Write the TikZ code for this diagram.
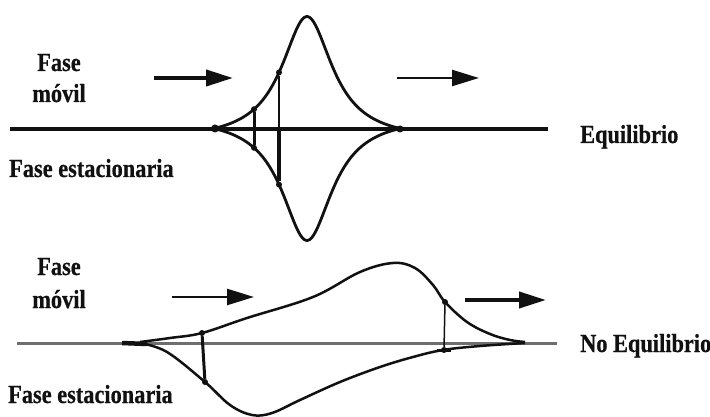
\documentclass[tikz,border=0pt]{standalone}
\usepackage{fontspec}
\usepackage{tikz}
\usetikzlibrary{positioning, arrows.meta}
\newfontfamily\lblfont[FakeStretch=0.86, FakeBold=0.6]{Liberation Serif}
\definecolor{chromInk}{HTML}{111111}
\definecolor{chromBase}{HTML}{6E6E6E}
\colorlet{curveInk}{chromInk}

\begin{document}
\begin{tikzpicture}[x=1pt, y=-1pt,
    font=\lblfont\bfseries\fontsize{26}{28}\selectfont,
    lbl/.style={anchor=base west, inner sep=0pt, text=chromInk},
    phase/.style={anchor=base, inner sep=0pt, text=chromInk},
    band/.style={curveInk, line width=2.8pt, line join=round},
    flow/.style={chromInk, -{Triangle[length=27pt, width=16pt]}},
    dot/.style={circle, fill=chromInk, inner sep=0pt, minimum size=6pt},
    declare function={peak(\x)=112*(1/(1+(\x/31)^2)-0.1)/0.9;}]
  \useasboundingbox (0,0) rectangle (710,417);

  % equilibrio
  \node[phase] (mov1) at (59,71) {Fase};
  \node[phase] (mov1b) at (59,102) {móvil};
  \node[lbl] (est1) at (9,177) {Fase estacionaria};
  \node[lbl] (eq1) at (580,143) {Equilibrio};

  \coordinate (a1s) at (154,78);  \coordinate (a1e) at (233,78);
  \coordinate (a2s) at (397,78);  \coordinate (a2e) at (479,78);
  \draw[flow, line width=4pt] (a1s) -- (a1e);
  \draw[flow, line width=2.4pt] (a2s) -- (a2e);

  \coordinate (b1s) at (10,129);  \coordinate (b1e) at (548,129);
  \draw[chromInk, line width=4.6pt] (b1s) -- (b1e);

  \draw[band] plot[domain=-93:93, samples=121] ({307+\x}, {128.5-peak(\x)});
  \draw[band] plot[domain=-93:93, samples=121] ({307+\x}, {128.5+peak(\x)});

  \node[dot] (u1) at (254,{128.5-peak(-53)}) {};
  \node[dot] (d1) at (254,{128.5+peak(-53)}) {};
  \node[dot] (u2) at (279,{128.5-peak(-28)}) {};
  \node[dot] (d2) at (279,{128.5+peak(-28)}) {};
  \node[dot, minimum size=8pt] (t1l) at (215,128.5) {};
  \node[dot, minimum size=7pt] (t1r) at (400,129) {};
  \coordinate (m2) at (279,128.5);
  \draw[chromInk, line width=3pt] (u1) -- (d1);
  \draw[chromInk, line width=1.3pt] (u2) -- (m2);
  \draw[chromInk, line width=3.4pt] (m2) -- (d2);

  % no equilibrio
  \node[phase] (mov2) at (59,275) {Fase};
  \node[phase] (mov2b) at (59,308) {móvil};
  \node[lbl] (est2) at (8,403) {Fase estacionaria};
  \node[lbl] (eq2) at (580,352) {No Equilibrio};

  \coordinate (c1s) at (172,297);  \coordinate (c1e) at (254,297);
  \coordinate (c2s) at (465,300);  \coordinate (c2e) at (546,300);
  \draw[flow, line width=2.4pt] (c1s) -- (c1e);
  \draw[flow, line width=4pt] (c2s) -- (c2e);

  \coordinate (b2s) at (17,343);  \coordinate (b2e) at (557,343);
  \draw[chromBase, line width=3pt] (b2s) -- (b2e);

  \draw[band, line width=2.5pt] plot[smooth, tension=0.6] coordinates
    {(140,342) (170,338) (202,333) (247,318) (313,297) (360,272) (393,263)
     (415,268) (433,285) (445,302) (467,322) (490,334) (510,340) (525,342)};
  \draw[band, line width=2.5pt] plot[smooth, tension=0.6] coordinates
    {(140,343) (167,352) (205,382) (230,405) (252,415) (272,413) (300,400)
     (340,382) (380,367) (413,357) (443,350) (480,346) (525,343)};

  \node[dot] (u3) at (202,333) {};
  \node[dot] (d3) at (205,382) {};
  \node[dot] (u4) at (445,302) {};
  \node[dot] (d4) at (444,350) {};
  \draw[chromInk, line width=3pt] (u3) -- (d3);
  \draw[chromInk, line width=1.5pt] (u4) -- (d4);
  \coordinate (k1) at (437,350);  \coordinate (k2) at (451,350);
  \draw[chromInk, line width=3pt] (k1) -- (k2);
  \coordinate (t2a) at (122,343);  \coordinate (t2b) at (147,344);
  \draw[chromInk, line width=4.5pt] (t2a) -- (t2b);
\end{tikzpicture}
\end{document}
